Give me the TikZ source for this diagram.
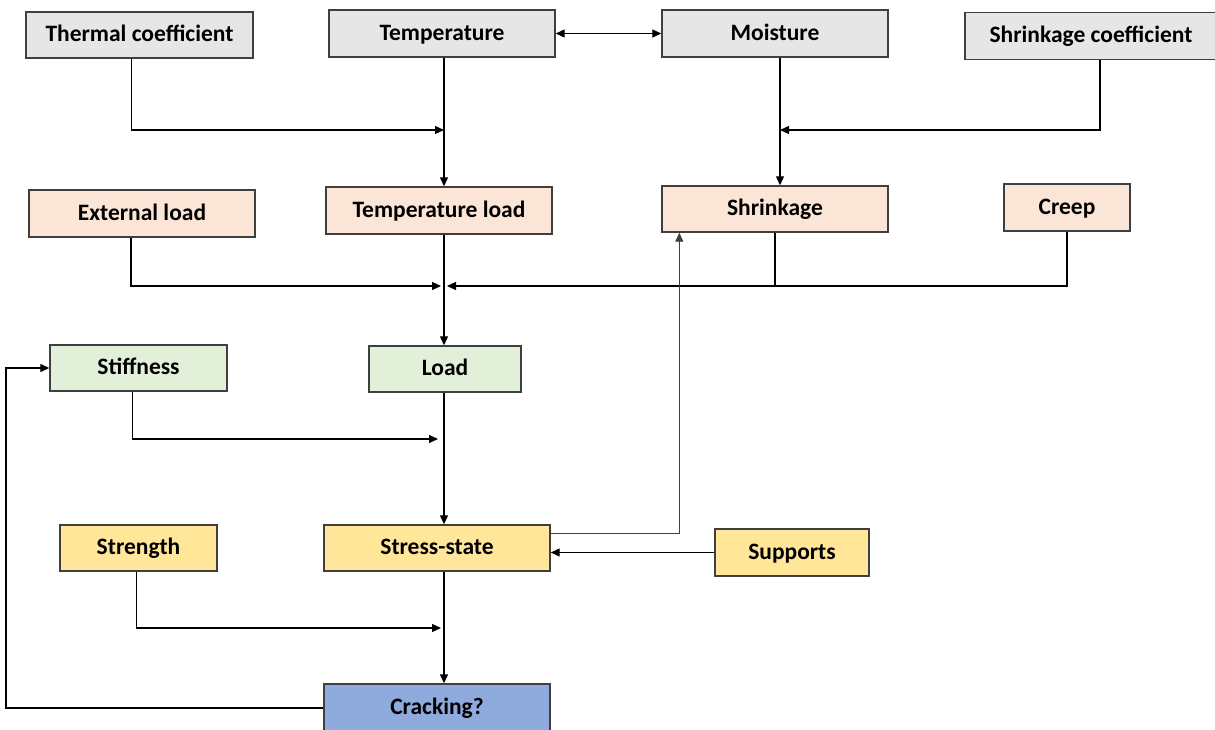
\documentclass[tikz,border=0pt]{standalone}
\usepackage{fontspec}
\setmainfont{Carlito}
\usetikzlibrary{arrows.meta}

\definecolor{boxgray}{HTML}{E7E6E6}
\definecolor{boxpeach}{HTML}{FBE5D6}
\definecolor{boxgreen}{HTML}{E2F0D9}
\definecolor{boxyellow}{HTML}{FFE699}
\definecolor{boxblue}{HTML}{8FAADC}
\definecolor{edgegray}{HTML}{3F3F3F}

\begin{document}
\begin{tikzpicture}[x=1pt, y=-1pt]
        % basic settings
        \useasboundingbox (0,0) rectangle (1215,730);
        \clip (0,0) rectangle (1215,730);
        \tikzstyle{factorbox} = [rectangle, draw=edgegray, line width=1.4pt, minimum height=46pt, inner sep=0pt, text height=16.5pt, text depth=3pt, font=\fontsize{23.5}{28}\selectfont\bfseries]
        \tikzstyle{arr} = [line width=1.3pt, -{Triangle[length=9pt, width=8pt]}]
        \tikzstyle{arrboth} = [line width=1.3pt, {Triangle[length=9pt, width=8pt]}-{Triangle[length=9pt, width=8pt]}]

        % 1. top row (influencing factors)
        \node[factorbox, fill=boxgray, minimum width=227pt] (thermal) at (139.5, 35) {Thermal coefficient};
        \node[factorbox, fill=boxgray, minimum width=226pt, minimum height=47pt] (temp) at (442, 33.5) {Temperature};
        \node[factorbox, fill=boxgray, minimum width=226pt, minimum height=47pt] (moist) at (775, 33.5) {Moisture};
        \node[factorbox, fill=boxgray, minimum width=252pt, minimum height=47pt] (shrcoef) at (1091, 36) {Shrinkage coefficient};

        % 2. load sources
        \node[factorbox, fill=boxpeach, minimum width=226pt, minimum height=47pt] (extload) at (142, 213.5) {External load};
        \node[factorbox, fill=boxpeach, minimum width=226pt, minimum height=47pt] (tempload) at (439, 210.5) {Temperature load};
        \node[factorbox, fill=boxpeach, minimum width=226pt] (shrink) at (775, 209) {Shrinkage};
        \node[factorbox, fill=boxpeach, minimum width=126pt, minimum height=47pt] (creep) at (1067, 207.5) {Creep};

        % 3. stiffness and load
        \node[factorbox, fill=boxgreen, minimum width=177pt] (stiff) at (138.5, 368) {Stiffness};
        \node[factorbox, fill=boxgreen, minimum width=152pt] (load) at (445, 369) {Load};

        % 4. stress state
        \node[factorbox, fill=boxyellow, minimum width=157pt] (strength) at (138.5, 548) {Strength};
        \node[factorbox, fill=boxyellow, minimum width=226pt] (stress) at (437, 548) {Stress-state};
        \node[factorbox, fill=boxyellow, minimum width=154pt, minimum height=47pt] (supports) at (792, 552.5) {Supports};

        % 5. result
        \node[factorbox, fill=boxblue, minimum width=226pt, minimum height=48pt] (crack) at (437, 708) {Cracking?};

        % junction points on the lines
        \coordinate (j1) at (444, 130);
        \coordinate (j2) at (780, 130);
        \coordinate (j3) at (444, 286);
        \coordinate (j4) at (444, 439);
        \coordinate (j5) at (444, 628);
        \coordinate (fb) at (6, 708);

        % arrows into temperature load and shrinkage
        \draw[arrboth] (temp.east) -- (moist.west);
        \draw[arr] ([xshift=-8pt]thermal.south) |- (j1);
        \draw[arr] (temp.south -| j1) -- (tempload.north -| j1);
        \draw[arr] ([xshift=9pt]shrcoef.south) |- (j2);
        \draw[arr] (moist.south -| j2) -- (shrink.north -| j2);

        % arrows into load
        \draw[arr] ([xshift=-11pt]extload.south) |- ([xshift=-3pt]j3);
        \draw[arr] (creep.south) |- ([xshift=3pt]j3);
        \draw[line width=1.3pt] (shrink.south) -- (shrink.south |- j3);
        \draw[arr] (tempload.south -| j3) -- (load.north -| j3);

        % arrows into stress state
        \draw[arr] ([xshift=-6pt]stiff.south) |- ([xshift=-6pt]j4);
        \draw[arr] (load.south -| j4) -- (stress.north -| j4);
        \draw[arr] (supports.west) -- (supports.west -| stress.east);
        \draw[arr, line width=0.9pt, draw=edgegray] ([yshift=15pt]stress.east) -| ([xshift=18pt]shrink.south west);

        % arrows into cracking and feedback
        \draw[arr] ([xshift=-2pt]strength.south) |- ([xshift=-3pt]j5);
        \draw[arr] (stress.south -| j5) -- (crack.north -| j5);
        \draw[arr] (crack.west) -- (fb) |- (stiff.west);

    \end{tikzpicture}
\end{document}
